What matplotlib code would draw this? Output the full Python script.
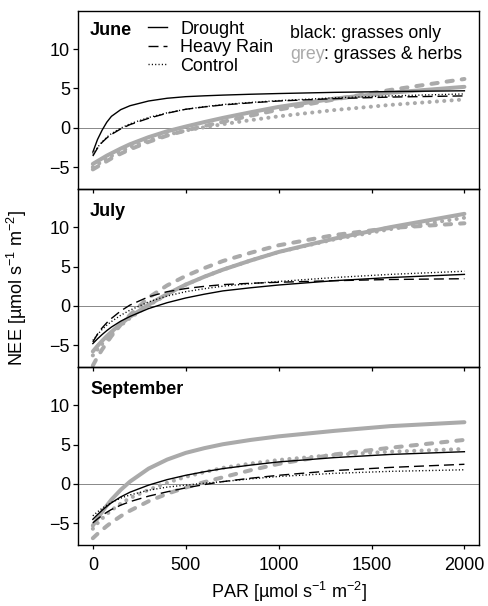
import matplotlib
matplotlib.use("Agg")
import matplotlib.pyplot as plt
from matplotlib.lines import Line2D

plt.rcParams['font.family'] = ['Liberation Sans', 'DejaVu Sans']
plt.rcParams['mathtext.fontset'] = 'custom'
plt.rcParams['mathtext.rm'] = 'Liberation Sans'
plt.rcParams['mathtext.it'] = 'Liberation Sans:italic'
plt.rcParams['lines.scale_dashes'] = False
plt.rcParams['font.size'] = 13

par = [0, 25, 50, 75, 100, 150, 200, 300, 400, 500, 600, 700, 850, 1000, 1300, 1600, 2000]

months = ['June', 'July', 'September']

# black: grasses only
june_drought = [-3.1, -1.5, -0.3, 0.7, 1.45, 2.3, 2.8, 3.4, 3.75, 3.95, 4.06, 4.15, 4.26, 4.35, 4.5, 4.6, 4.7]
june_rain = [-3.6, -2.6, -1.85, -1.3, -0.85, -0.15, 0.4, 1.2, 1.85, 2.35, 2.65, 2.9, 3.17, 3.4, 3.7, 3.9, 4.05]
june_control = [-3.4, -2.5, -1.8, -1.2, -0.75, -0.05, 0.5, 1.3, 1.9, 2.35, 2.67, 2.95, 3.22, 3.45, 3.8, 4.05, 4.3]
july_drought = [-4.8, -4.2, -3.65, -3.15, -2.7, -1.95, -1.35, -0.35, 0.4, 1.0, 1.48, 1.9, 2.3, 2.65, 3.2, 3.6, 4.0]
july_rain = [-4.6, -3.6, -2.8, -2.15, -1.6, -0.65, 0.1, 1.15, 1.8, 2.2, 2.48, 2.7, 2.87, 3.0, 3.2, 3.35, 3.45]
july_control = [-4.4, -3.65, -3.0, -2.45, -2.0, -1.2, -0.55, 0.5, 1.25, 1.8, 2.18, 2.5, 2.83, 3.1, 3.6, 4.0, 4.4]
sep_drought = [-4.5, -3.9, -3.35, -2.85, -2.4, -1.65, -1.05, -0.15, 0.55, 1.1, 1.55, 1.95, 2.4, 2.8, 3.35, 3.75, 4.1]
sep_rain = [-4.95, -4.45, -4.0, -3.6, -3.25, -2.7, -2.25, -1.55, -1.0, -0.5, -0.08, 0.3, 0.73, 1.1, 1.7, 2.1, 2.5]
sep_control = [-4.05, -3.55, -3.1, -2.7, -2.35, -1.8, -1.4, -0.8, -0.4, -0.15, 0.09, 0.3, 0.65, 0.95, 1.35, 1.6, 1.8]

# grey: grasses & herbs
june_drought_h = [-4.6, -4.25, -3.9, -3.55, -3.25, -2.65, -2.1, -1.2, -0.45, 0.15, 0.72, 1.25, 1.97, 2.65, 3.7, 4.45, 5.2]
june_rain_h = [-5.3, -4.95, -4.6, -4.25, -3.9, -3.3, -2.75, -1.8, -1.0, -0.35, 0.21, 0.75, 1.54, 2.3, 3.6, 4.8, 6.2]
june_control_h = [-5.0, -4.65, -4.3, -3.95, -3.6, -3.0, -2.5, -1.6, -0.9, -0.35, 0.06, 0.45, 0.97, 1.45, 2.25, 2.9, 3.6]
july_drought_h = [-5.8, -5.1, -4.45, -3.85, -3.3, -2.3, -1.4, 0.15, 1.5, 2.7, 3.7, 4.6, 5.77, 6.85, 8.55, 10.0, 11.7]
july_rain_h = [-7.6, -6.5, -5.55, -4.7, -3.85, -2.4, -1.15, 1.05, 2.6, 3.8, 4.8, 5.7, 6.75, 7.7, 9.0, 9.9, 10.5]
july_control_h = [-6.3, -5.55, -4.85, -4.2, -3.6, -2.5, -1.55, 0.05, 1.45, 2.7, 3.7, 4.6, 5.77, 6.85, 8.45, 9.75, 11.2]
sep_drought_h = [-5.3, -4.4, -3.55, -2.75, -2.0, -0.75, 0.3, 1.95, 3.1, 3.95, 4.55, 5.05, 5.6, 6.05, 6.75, 7.35, 7.85]
sep_rain_h = [-6.9, -6.35, -5.85, -5.35, -4.9, -4.1, -3.4, -2.2, -1.25, -0.45, 0.23, 0.85, 1.75, 2.55, 3.75, 4.6, 5.6]
sep_control_h = [-5.7, -5.0, -4.4, -3.85, -3.35, -2.5, -1.8, -0.75, 0.15, 0.9, 1.5, 2.05, 2.6, 3.05, 3.7, 4.1, 4.45]

grass = [(june_drought, june_rain, june_control),
         (july_drought, july_rain, july_control),
         (sep_drought, sep_rain, sep_control)]
herbs = [(june_drought_h, june_rain_h, june_control_h),
         (july_drought_h, july_rain_h, july_control_h),
         (sep_drought_h, sep_rain_h, sep_control_h)]

grey = '#aaaaaa'
# line styles: solid, dashed, dotted
black_styles = [dict(), dict(dashes=[7.2, 3.6]), dict(dashes=[0.8, 1.6])]
grey_styles = [dict(), dict(dashes=[4.5, 6.5]), dict(dashes=[0.1, 5.2])]

fig = plt.figure(figsize=(4.88, 6.06), dpi=100)
left, width, height = 0.1598, 0.8223, 0.2939
bottoms = [0.6880, 0.3941, 0.1002]
title_y = [0.89, 0.872, 0.872]

for i in range(3):
    ax = fig.add_axes([left, bottoms[i], width, height])
    ax.set_facecolor('none')
    ax.axhline(0, color='#888888', lw=0.7, zorder=1)

    for vals, st in zip(herbs[i], grey_styles):
        ax.plot(par, vals, color=grey, lw=2.9, solid_capstyle='round',
                dash_capstyle='round', solid_joinstyle='round', zorder=2, **st)
    for vals, st in zip(grass[i], black_styles):
        ax.plot(par, vals, color='black', lw=1.0, dash_capstyle='butt', zorder=3, **st)

    ax.set_xlim(-80, 2080)
    ax.set_ylim(-7.8, 14.85)
    ax.set_xticks([0, 500, 1000, 1500, 2000])
    ax.set_yticks([-5, 0, 5, 10])
    ax.tick_params(direction='out', width=0.9, labelsize=13)
    ax.tick_params(axis='x', length=3, pad=5.5)
    ax.tick_params(axis='y', length=3.8, pad=2)
    for s in ax.spines.values():
        s.set_linewidth(1.0)
    if i < 2:
        ax.tick_params(axis='x', labelbottom=False)

    ax.text(0.03, title_y[i], months[i], transform=ax.transAxes, fontsize=13,
            fontweight='bold', va='center', ha='left')

    if i == 0:
        handles = [Line2D([], [], color='black', lw=1.0, **st) for st in black_styles]
        ax.legend(handles, ['Drought', 'Heavy Rain', 'Control'], loc='upper left',
                  bbox_to_anchor=(0.174, 0.945), frameon=False, fontsize=13,
                  handlelength=1.05, handletextpad=0.76, labelspacing=0.08,
                  borderpad=0, borderaxespad=0)
        ax.text(0.528, 0.871, 'black: grasses only', transform=ax.transAxes,
                fontsize=12.8, va='center', ha='left')
        t = ax.text(0.528, 0.753, 'grey', transform=ax.transAxes, color=grey,
                    fontsize=12.8, va='center', ha='left')
        ax.annotate(': grasses & herbs', xy=(1, 0), xycoords=t, fontsize=12.8,
                    va='bottom', ha='left')

fig.text(0.035, 0.525, r'NEE [µmol s$^{-1}$ m$^{-2}$]', rotation=90,
         ha='center', va='center', fontsize=13)
fig.text(0.592, 0.003, r'PAR [µmol s$^{-1}$ m$^{-2}$]', ha='center', va='bottom',
         fontsize=13)

plt.savefig('out.png', dpi=100)
